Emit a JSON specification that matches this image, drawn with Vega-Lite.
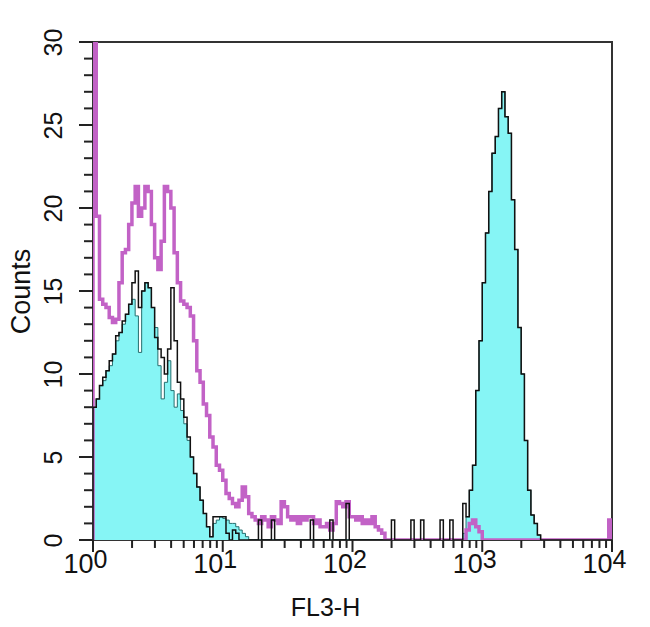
{
  "$schema": "https://vega.github.io/schema/vega-lite/v6.json",
  "width": 519,
  "height": 498,
  "autosize": {"type": "none"},
  "padding": {"left": 93, "top": 42, "right": 38, "bottom": 87},
  "background": "white",
  "config": {"view": {"stroke": "#333333", "strokeWidth": 2}, "font": "Liberation Sans, Arial"},
  "datasets": {
    "xmaj": [{"v":1},{"v":10},{"v":100},{"v":1000},{"v":10000}],
    "xmin": [{"v":2},{"v":3},{"v":4},{"v":5},{"v":6},{"v":7},{"v":8},{"v":9},{"v":20},{"v":30},{"v":40},{"v":50},{"v":60},{"v":70},{"v":80},{"v":90},{"v":200},{"v":300},{"v":400},{"v":500},{"v":600},{"v":700},{"v":800},{"v":900},{"v":2000},{"v":3000},{"v":4000},{"v":5000},{"v":6000},{"v":7000},{"v":8000},{"v":9000}],
    "ymaj": [{"v":0},{"v":5},{"v":10},{"v":15},{"v":20},{"v":25},{"v":30}],
    "ymin": [{"v":1},{"v":2},{"v":3},{"v":4},{"v":6},{"v":7},{"v":8},{"v":9},{"v":11},{"v":12},{"v":13},{"v":14},{"v":16},{"v":17},{"v":18},{"v":19},{"v":21},{"v":22},{"v":23},{"v":24},{"v":26},{"v":27},{"v":28},{"v":29}],
    "hist": [
    {"x":0.98,"c":0,"k":0,"m":0},
    {"x":1,"c":8.0,"k":8.0,"m":40},
    {"x":1.0593,"c":8.5,"k":8.5,"m":19.5},
    {"x":1.122,"c":9.3,"k":9.3,"m":14.5},
    {"x":1.1885,"c":9.6,"k":9.8,"m":14.2},
    {"x":1.2589,"c":10.2,"k":10.2,"m":14.0},
    {"x":1.3335,"c":10.5,"k":10.8,"m":13.4},
    {"x":1.4125,"c":11.2,"k":11.2,"m":13.1},
    {"x":1.4962,"c":12.0,"k":12.3,"m":13.3},
    {"x":1.5849,"c":12.5,"k":12.5,"m":15.5},
    {"x":1.6788,"c":13.0,"k":13.2,"m":17.3},
    {"x":1.7783,"c":13.6,"k":13.6,"m":17.5},
    {"x":1.8836,"c":14.2,"k":14.2,"m":19.0},
    {"x":1.9953,"c":14.5,"k":15.5,"m":20.3},
    {"x":2.1135,"c":13.5,"k":16.2,"m":21.3},
    {"x":2.2387,"c":11.3,"k":14.0,"m":19.5},
    {"x":2.3714,"c":15.0,"k":15.0,"m":20.0},
    {"x":2.5119,"c":15.5,"k":15.5,"m":21.3},
    {"x":2.6607,"c":15.2,"k":15.2,"m":21.0},
    {"x":2.8184,"c":14.0,"k":14.0,"m":19.0},
    {"x":2.9854,"c":12.8,"k":12.2,"m":17.0},
    {"x":3.1623,"c":10.5,"k":11.5,"m":16.3},
    {"x":3.3497,"c":8.5,"k":11.0,"m":18.0},
    {"x":3.5481,"c":9.5,"k":10.0,"m":21.3},
    {"x":3.7584,"c":10.8,"k":11.5,"m":21.0},
    {"x":3.9811,"c":9.0,"k":15.2,"m":20.0},
    {"x":4.217,"c":8.0,"k":12.0,"m":17.3},
    {"x":4.4668,"c":8.8,"k":9.5,"m":15.5},
    {"x":4.7315,"c":7.8,"k":8.5,"m":14.4},
    {"x":5.0119,"c":7.0,"k":7.4,"m":14.2},
    {"x":5.3088,"c":6.0,"k":6.2,"m":14.0},
    {"x":5.6234,"c":5.0,"k":5.0,"m":13.5},
    {"x":5.9566,"c":4.0,"k":4.0,"m":12.0},
    {"x":6.3096,"c":3.2,"k":3.2,"m":10.2},
    {"x":6.6834,"c":2.4,"k":2.4,"m":9.5},
    {"x":7.0795,"c":1.6,"k":1.6,"m":8.2},
    {"x":7.4989,"c":0.8,"k":0.8,"m":7.5},
    {"x":7.9433,"c":0.2,"k":0.2,"m":6.2},
    {"x":8.414,"c":1.0,"k":1.4,"m":5.6},
    {"x":8.9125,"c":1.2,"k":1.4,"m":4.5},
    {"x":9.4406,"c":1.4,"k":1.4,"m":4.2},
    {"x":10,"c":1.3,"k":1.4,"m":3.6},
    {"x":10.593,"c":1.2,"k":0.4,"m":2.8},
    {"x":11.22,"c":1.0,"k":0,"m":2.5},
    {"x":11.885,"c":1.0,"k":0.6,"m":2.2},
    {"x":12.589,"c":0.8,"k":0.4,"m":2.0},
    {"x":13.335,"c":0.6,"k":0,"m":2.4},
    {"x":14.125,"c":0.4,"k":0,"m":3.2},
    {"x":14.962,"c":0.2,"k":0,"m":2.6},
    {"x":15.849,"c":0,"k":0,"m":1.6},
    {"x":16.788,"c":0,"k":0,"m":1.4},
    {"x":17.783,"c":0,"k":0,"m":1.2},
    {"x":18.836,"c":0,"k":1.2,"m":1.0},
    {"x":19.953,"c":0,"k":0,"m":1.4},
    {"x":21.135,"c":0,"k":0,"m":1.2},
    {"x":22.387,"c":0,"k":0,"m":0.8},
    {"x":23.714,"c":0,"k":1.2,"m":1.4},
    {"x":25.119,"c":0,"k":0,"m":1.2},
    {"x":26.607,"c":0,"k":0,"m":1.0},
    {"x":28.184,"c":0,"k":0,"m":2.3},
    {"x":29.854,"c":0,"k":0,"m":2.0},
    {"x":31.623,"c":0,"k":0,"m":1.4},
    {"x":33.497,"c":0,"k":0,"m":1.2},
    {"x":35.481,"c":0,"k":0,"m":1.4},
    {"x":37.584,"c":0,"k":0,"m":1.0},
    {"x":39.811,"c":0,"k":0,"m":1.4},
    {"x":42.17,"c":0,"k":0,"m":1.2},
    {"x":44.668,"c":0,"k":0,"m":1.4},
    {"x":47.315,"c":0,"k":1.2,"m":1.4},
    {"x":50.119,"c":0,"k":0,"m":1.0},
    {"x":53.088,"c":0,"k":0,"m":1.2},
    {"x":56.234,"c":0,"k":0,"m":0.8},
    {"x":59.566,"c":0,"k":0,"m":0.8},
    {"x":63.096,"c":0,"k":0,"m":1.0},
    {"x":66.834,"c":0,"k":1.2,"m":0.6},
    {"x":70.795,"c":0,"k":0,"m":1.0},
    {"x":74.989,"c":0,"k":0,"m":2.3},
    {"x":79.433,"c":0,"k":0,"m":2.2},
    {"x":84.14,"c":0,"k":0,"m":2.0},
    {"x":89.125,"c":0,"k":2.2,"m":2.3},
    {"x":94.406,"c":0,"k":0,"m":1.4},
    {"x":100,"c":0,"k":0,"m":1.4},
    {"x":105.93,"c":0,"k":0,"m":1.2},
    {"x":112.2,"c":0,"k":0,"m":1.4},
    {"x":118.85,"c":0,"k":0,"m":1.0},
    {"x":125.89,"c":0,"k":0,"m":1.2},
    {"x":133.35,"c":0,"k":0,"m":1.0},
    {"x":141.25,"c":0,"k":0,"m":1.4},
    {"x":149.62,"c":0,"k":0,"m":0.8},
    {"x":158.49,"c":0,"k":0,"m":0.6},
    {"x":167.88,"c":0,"k":0,"m":0.4},
    {"x":177.83,"c":0,"k":0,"m":0},
    {"x":188.36,"c":0,"k":0,"m":0},
    {"x":199.53,"c":0,"k":1.2,"m":0},
    {"x":211.35,"c":0,"k":0,"m":0},
    {"x":223.87,"c":0,"k":0,"m":0},
    {"x":237.14,"c":0,"k":0,"m":0},
    {"x":251.19,"c":0,"k":0,"m":0},
    {"x":266.07,"c":0,"k":0,"m":0},
    {"x":281.84,"c":0,"k":1.2,"m":0},
    {"x":298.54,"c":0,"k":0,"m":0},
    {"x":316.23,"c":0,"k":0,"m":0},
    {"x":334.97,"c":0,"k":1.2,"m":0},
    {"x":354.81,"c":0,"k":0,"m":0},
    {"x":375.84,"c":0,"k":0,"m":0},
    {"x":398.11,"c":0,"k":0,"m":0},
    {"x":421.7,"c":0,"k":0,"m":0},
    {"x":446.68,"c":0,"k":0,"m":0},
    {"x":473.15,"c":0,"k":1.2,"m":0},
    {"x":501.19,"c":0,"k":0,"m":0},
    {"x":530.88,"c":0,"k":0,"m":0},
    {"x":562.34,"c":0,"k":1.2,"m":0},
    {"x":595.66,"c":0,"k":0,"m":0},
    {"x":630.96,"c":0,"k":0,"m":0},
    {"x":668.34,"c":0,"k":0,"m":0},
    {"x":707.95,"c":0.4,"k":2.2,"m":0},
    {"x":749.89,"c":1.4,"k":1.4,"m":0.6},
    {"x":794.33,"c":3.0,"k":3.0,"m":1.0},
    {"x":841.4,"c":4.5,"k":4.5,"m":1.2},
    {"x":891.25,"c":9.0,"k":9.0,"m":0.8},
    {"x":944.06,"c":12.0,"k":12.0,"m":0.5},
    {"x":1000,"c":15.5,"k":15.5,"m":0},
    {"x":1059.3,"c":18.5,"k":18.5,"m":0},
    {"x":1122,"c":21.0,"k":21.0,"m":0},
    {"x":1188.5,"c":23.3,"k":23.3,"m":0},
    {"x":1258.9,"c":24.3,"k":24.3,"m":0},
    {"x":1333.5,"c":26.0,"k":26.0,"m":0},
    {"x":1412.5,"c":27.0,"k":27.0,"m":0},
    {"x":1496.2,"c":25.5,"k":25.5,"m":0},
    {"x":1584.9,"c":24.5,"k":24.5,"m":0},
    {"x":1678.8,"c":20.5,"k":20.5,"m":0},
    {"x":1778.3,"c":17.5,"k":17.5,"m":0},
    {"x":1883.6,"c":12.8,"k":12.8,"m":0},
    {"x":1995.3,"c":10.0,"k":10.0,"m":0},
    {"x":2113.5,"c":6.0,"k":6.0,"m":0},
    {"x":2238.7,"c":3.0,"k":3.0,"m":0},
    {"x":2371.4,"c":1.5,"k":1.5,"m":0},
    {"x":2511.9,"c":1.0,"k":1.0,"m":0},
    {"x":2660.7,"c":0.3,"k":0.3,"m":0},
    {"x":2818.4,"c":0,"k":0,"m":0},
    {"x":2985.4,"c":0,"k":0,"m":0},
    {"x":3162.3,"c":0,"k":0,"m":0},
    {"x":3349.7,"c":0,"k":0,"m":0},
    {"x":3548.1,"c":0,"k":0,"m":0},
    {"x":3758.4,"c":0,"k":0,"m":0},
    {"x":3981.1,"c":0,"k":0,"m":0},
    {"x":4217,"c":0,"k":0,"m":0},
    {"x":4466.8,"c":0,"k":0,"m":0},
    {"x":4731.5,"c":0,"k":0,"m":0},
    {"x":5011.9,"c":0,"k":0,"m":0},
    {"x":5308.8,"c":0,"k":0,"m":0},
    {"x":5623.4,"c":0,"k":0,"m":0},
    {"x":5956.6,"c":0,"k":0,"m":0},
    {"x":6309.6,"c":0,"k":0,"m":0},
    {"x":6683.4,"c":0,"k":0,"m":0},
    {"x":7079.5,"c":0,"k":0,"m":0},
    {"x":7498.9,"c":0,"k":0,"m":0},
    {"x":7943.3,"c":0,"k":0,"m":0},
    {"x":8414,"c":0,"k":0,"m":0},
    {"x":8912.5,"c":0,"k":0,"m":0},
    {"x":9440.6,"c":0,"k":0,"m":1.2},
    {"x":10000,"c":0,"k":0,"m":0}
    ]
  },
  "resolve": {"axis": {"x": "independent", "y": "independent"}},
  "layer": [
    {
      "data": {"name": "hist"},
      "mark": {"type": "area", "interpolate": "step-after", "color": "#86F5F5", "opacity": 1, "clip": true, "line": {"color": "#246E6E", "strokeWidth": 1}},
      "encoding": {
        "x": {"field": "x", "type": "quantitative",
          "scale": {"type": "log", "domain": [1, 10000], "nice": false},
          "axis": {
            "orient": "bottom",
            "values": [1, 10, 100, 1000, 10000],
            "labelExpr": "'10'",
            "ticks": false, "domain": false,
            "labelFontSize": 27, "labelAlign": "right", "labelBaseline": "top", "labelPadding": 11, "labelDx": -1,
            "labelColor": "#111111", "labelFlush": false, "labelOverlap": false, "labelBound": false,
            "grid": false, "title": "FL3-H", "titleFontSize": 25, "titleFontWeight": "normal", "titleColor": "#111111",
            "titleX": 232, "titleY": 55, "titleBaseline": "top"
          }
        },
        "y": {"field": "c", "type": "quantitative",
          "scale": {"domain": [0, 30], "nice": false},
          "axis": {
            "orient": "left",
            "values": [0, 5, 10, 15, 20, 25, 30],
            "ticks": false, "domain": false,
            "labelAngle": -90, "labelAlign": "center", "labelBaseline": "bottom", "labelFontSize": 25,
            "labelPadding": 27, "labelColor": "#111111", "labelOverlap": false, "labelFlush": false, "labelBound": false,
            "grid": false, "title": "Counts", "titleFontSize": 27, "titleFontWeight": "normal", "titleColor": "#111111", "titlePadding": 6
          }
        }
      }
    },
    {
      "data": {"name": "hist"},
      "mark": {"type": "line", "interpolate": "step-after", "color": "#C262C6", "strokeWidth": 3.5, "clip": true},
      "encoding": {
        "x": {"field": "x", "type": "quantitative", "axis": null},
        "y": {"field": "m", "type": "quantitative", "axis": null}
      }
    },
    {
      "data": {"name": "hist"},
      "mark": {"type": "line", "interpolate": "step-after", "color": "#111111", "strokeWidth": 1.5, "clip": true},
      "encoding": {
        "x": {"field": "x", "type": "quantitative",
          "axis": {
            "orient": "bottom",
            "values": [1, 10, 100, 1000, 10000],
            "labelExpr": "'' + round(log(datum.value) / LN10)",
            "ticks": false, "domain": false, "grid": false,
            "labelFontSize": 25, "labelAlign": "left", "labelBaseline": "top", "labelPadding": 7, "labelDx": 2,
            "labelColor": "#111111", "labelFlush": false, "labelOverlap": false, "labelBound": false, "title": null
          }
        },
        "y": {"field": "k", "type": "quantitative", "axis": null}
      }
    },
    {
      "data": {"name": "xmaj"},
      "mark": {"type": "rule", "color": "#222222", "strokeWidth": 2},
      "encoding": {
        "x": {"field": "v", "type": "quantitative", "axis": null},
        "y": {"datum": 0, "type": "quantitative", "axis": null},
        "y2": {"datum": -0.72}
      }
    },
    {
      "data": {"name": "xmin"},
      "mark": {"type": "rule", "color": "#222222", "strokeWidth": 2},
      "encoding": {
        "x": {"field": "v", "type": "quantitative", "axis": null},
        "y": {"datum": 0, "type": "quantitative", "axis": null},
        "y2": {"datum": -0.48}
      }
    },
    {
      "data": {"name": "ymaj"},
      "mark": {"type": "rule", "color": "#222222", "strokeWidth": 2},
      "encoding": {
        "y": {"field": "v", "type": "quantitative", "axis": null},
        "x": {"datum": 1, "type": "quantitative", "axis": null},
        "x2": {"datum": 0.78}
      }
    },
    {
      "data": {"name": "ymin"},
      "mark": {"type": "rule", "color": "#222222", "strokeWidth": 2},
      "encoding": {
        "y": {"field": "v", "type": "quantitative", "axis": null},
        "x": {"datum": 1, "type": "quantitative", "axis": null},
        "x2": {"datum": 0.852}
      }
    }
  ]
}
